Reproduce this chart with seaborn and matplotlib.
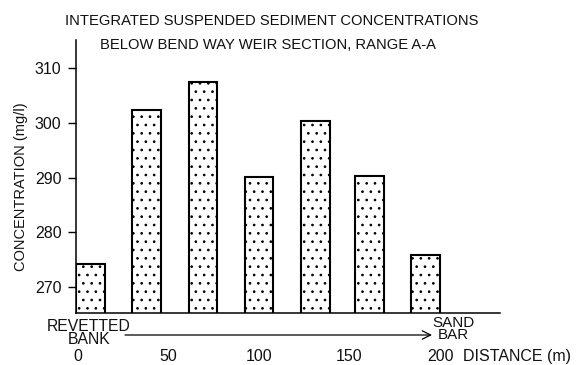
import matplotlib
matplotlib.use("Agg")
import matplotlib.pyplot as plt
import seaborn as sns
import pandas as pd

# ---- data ----
distance_m = [7, 38, 69, 100, 131, 161, 192]
concentration = [274.2, 302.4, 307.4, 290.2, 300.4, 290.3, 275.8]
x_ticks = [0, 50, 100, 150, 200]
x_tick_labels = ["0", "50", "100", "150", "200"]
y_ticks = [270, 280, 290, 300, 310]
y_tick_labels = ["270", "280", "290", "300", "310"]
title_lines = ["INTEGRATED SUSPENDED SEDIMENT CONCENTRATIONS",
               "BELOW BEND WAY WEIR SECTION, RANGE A-A"]

df = pd.DataFrame({"distance": distance_m, "conc": concentration})

sns.set_style("ticks")
FAM = ["Liberation Sans", "DejaVu Sans"]
plt.rcParams["font.family"] = FAM
plt.rcParams["hatch.linewidth"] = 0.7
plt.rcParams["hatch.color"] = "#3a3a3a"

W, H = 579, 365
fig = plt.figure(figsize=(W / 100, H / 100), dpi=100)
ax = fig.add_axes([76 / W, 1 - 313.3 / H, (500 - 76) / W, (313.3 - 40) / H])

sns.barplot(data=df, x="distance", y="conc", native_scale=True, width=0.53,
            color="white", edgecolor="black", linewidth=1.5, ax=ax,
            hatch="..", errorbar=None)

ax.set_xlim(-1.1, 233.1)
ax.set_ylim(265.25, 315.1)

sns.despine(ax=ax, top=True, right=True)
for s in ["left", "bottom"]:
    ax.spines[s].set_linewidth(1.1)
    ax.spines[s].set_color("black")

TXT = "#111111"
ax.set_yticks(y_ticks)
ax.set_yticklabels(y_tick_labels, fontsize=11.5, color=TXT)
ax.tick_params(axis="y", length=5.5, width=1.0, pad=5, color="black")
ax.set_xticks(x_ticks)
ax.set_xticklabels(x_tick_labels, fontsize=11.5, color=TXT)
ax.tick_params(axis="x", length=0, pad=26)
ax.set_xlabel("")
ax.set_ylabel("")

def fx(px):
    return px / W

def fy(py):
    return 1 - py / H

fig.text(fx(271.7), fy(20.8), title_lines[0], ha="center", va="center",
         fontsize=10.6, color=TXT)
fig.text(fx(268), fy(45), title_lines[1], ha="center", va="center",
         fontsize=10.6, color=TXT)
fig.text(fx(21), fy(186.5), "CONCENTRATION (mg/l)", rotation=90,
         ha="center", va="center", fontsize=10.5, color=TXT)

fig.text(fx(89), fy(333), "REVETTED\nBANK", ha="center", va="center",
         multialignment="center", linespacing=0.9,
         fontsize=11.3, color=TXT)
fig.text(fx(453), fy(329), "SAND\nBAR", ha="center", va="center",
         multialignment="center", linespacing=0.9,
         fontsize=10.9, color=TXT)
fig.text(fx(463), fy(356), "DISTANCE (m)", ha="left", va="center",
         fontsize=11.5, color=TXT)

fig.add_artist(matplotlib.patches.FancyArrowPatch(
    (fx(125), fy(335)), (fx(432), fy(335)), transform=fig.transFigure,
    arrowstyle="->,head_length=6,head_width=3", color="black", lw=0.9,
    shrinkA=0, shrinkB=0))

fig.savefig("out.png", dpi=100)
